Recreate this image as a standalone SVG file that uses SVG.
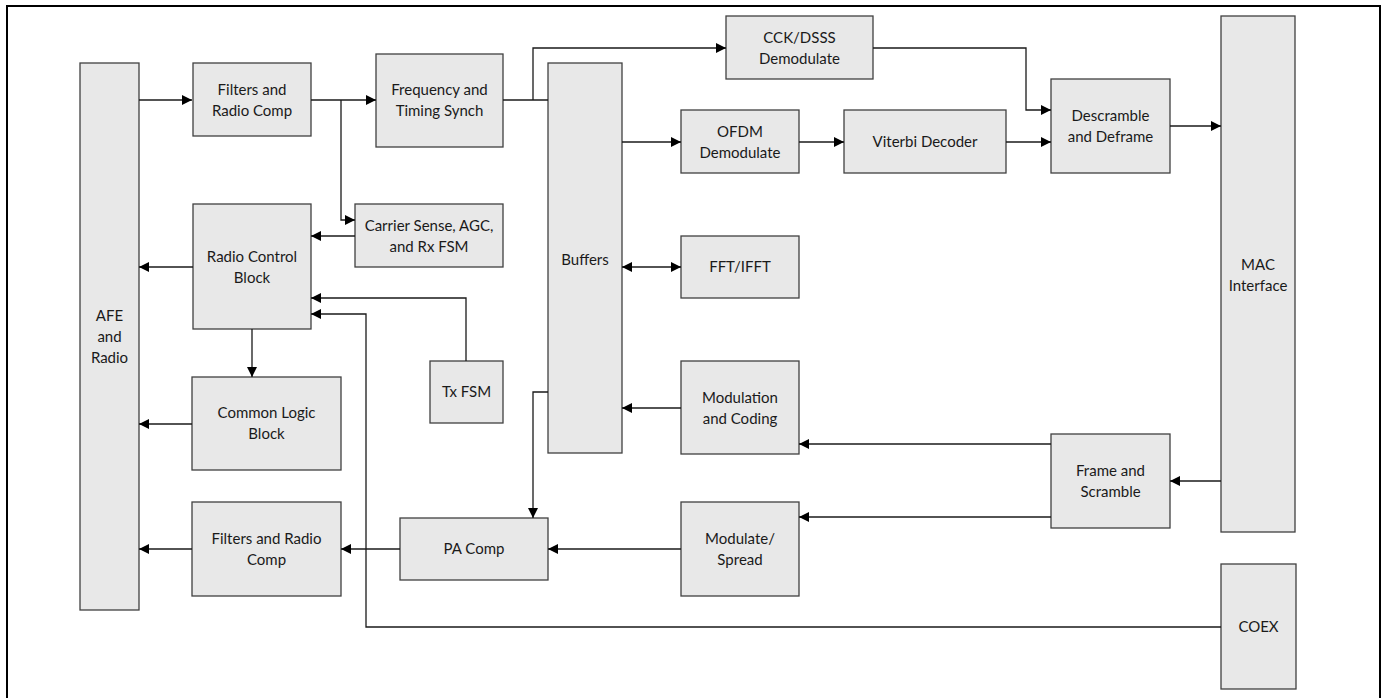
<svg xmlns="http://www.w3.org/2000/svg" width="1384" height="698" viewBox="0 0 1384 698">
<defs>
<style>
.box{fill:#e8e8e8;stroke:#404040;stroke-width:1.3}
.lbl{font-family:Lato,"Liberation Sans",sans-serif;font-size:15px;fill:#1a1a1a;text-anchor:middle}
.con{fill:none;stroke:#1a1a1a;stroke-width:1.3}
</style>
<marker id="ah" viewBox="0 0 10 10" refX="10" refY="5" markerWidth="10" markerHeight="10" markerUnits="userSpaceOnUse" orient="auto-start-reverse">
<path d="M0,0 L10,5 L0,10 z" fill="#000"/>
</marker>
</defs>
<rect width="1384" height="698" fill="#fff"/>
<path d="M7,710 L7,6 L1380,6 L1380,710" fill="none" stroke="#000" stroke-width="2"/>

<g id="afe"><rect class="box" x="80" y="63" width="59" height="547"/><text class="lbl" x="109.5" y="321">AFE</text><text class="lbl" x="109.5" y="342">and</text><text class="lbl" x="109.5" y="363">Radio</text></g>
<g id="filters-rx"><rect class="box" x="193" y="63" width="118" height="73"/><text class="lbl" x="252" y="95">Filters and</text><text class="lbl" x="252" y="116">Radio Comp</text></g>
<g id="freq"><rect class="box" x="376" y="54" width="127" height="93"/><text class="lbl" x="439.5" y="95">Frequency and</text><text class="lbl" x="439.5" y="116">Timing Synch</text></g>
<g id="cck"><rect class="box" x="726" y="16" width="147" height="63"/><text class="lbl" x="799.5" y="43">CCK/DSSS</text><text class="lbl" x="799.5" y="64">Demodulate</text></g>
<g id="buffers"><rect class="box" x="548" y="63" width="74" height="390"/><text class="lbl" x="585" y="265">Buffers</text></g>
<g id="ofdm"><rect class="box" x="681" y="110" width="118" height="63"/><text class="lbl" x="740" y="137">OFDM</text><text class="lbl" x="740" y="158">Demodulate</text></g>
<g id="viterbi"><rect class="box" x="844" y="110" width="162" height="63"/><text class="lbl" x="925" y="147">Viterbi Decoder</text></g>
<g id="descramble"><rect class="box" x="1051" y="79" width="119" height="94"/><text class="lbl" x="1110.5" y="121">Descramble</text><text class="lbl" x="1110.5" y="142">and Deframe</text></g>
<g id="mac"><rect class="box" x="1221" y="16" width="74" height="516"/><text class="lbl" x="1258" y="270">MAC</text><text class="lbl" x="1258" y="291">Interface</text></g>
<g id="carrier"><rect class="box" x="355" y="204" width="148" height="63"/><text class="lbl" x="429" y="231">Carrier Sense, AGC,</text><text class="lbl" x="429" y="252">and Rx FSM</text></g>
<g id="radioctl"><rect class="box" x="193" y="204" width="118" height="125"/><text class="lbl" x="252" y="262">Radio Control</text><text class="lbl" x="252" y="283">Block</text></g>
<g id="txfsm"><rect class="box" x="430" y="361" width="73" height="62"/><text class="lbl" x="466.5" y="397">Tx FSM</text></g>
<g id="fft"><rect class="box" x="681" y="236" width="118" height="62"/><text class="lbl" x="740" y="272">FFT/IFFT</text></g>
<g id="modcod"><rect class="box" x="681" y="361" width="118" height="93"/><text class="lbl" x="740" y="403">Modulation</text><text class="lbl" x="740" y="424">and Coding</text></g>
<g id="commonlogic"><rect class="box" x="192" y="377" width="149" height="93"/><text class="lbl" x="266.5" y="418">Common Logic</text><text class="lbl" x="266.5" y="439">Block</text></g>
<g id="framescr"><rect class="box" x="1051" y="434" width="119" height="94"/><text class="lbl" x="1110.5" y="476">Frame and</text><text class="lbl" x="1110.5" y="497">Scramble</text></g>
<g id="filters-tx"><rect class="box" x="192" y="502" width="149" height="94"/><text class="lbl" x="266.5" y="544">Filters and Radio</text><text class="lbl" x="266.5" y="565">Comp</text></g>
<g id="pacomp"><rect class="box" x="400" y="518" width="148" height="62"/><text class="lbl" x="474" y="554">PA Comp</text></g>
<g id="modspread"><rect class="box" x="681" y="502" width="118" height="94"/><text class="lbl" x="740" y="544">Modulate/</text><text class="lbl" x="740" y="565">Spread</text></g>
<g id="coex"><rect class="box" x="1221" y="564" width="75" height="125"/><text class="lbl" x="1258.5" y="632">COEX</text></g>

<g id="connectors">
<path class="con" d="M139,100 H192" marker-end="url(#ah)"/>
<path class="con" d="M311,100 H376" marker-end="url(#ah)"/>
<path class="con" d="M341,100 V220 H355" marker-end="url(#ah)"/>
<path class="con" d="M503,100 H548"/>
<path class="con" d="M533,100 V48 H726" marker-end="url(#ah)"/>
<path class="con" d="M873,48 H1026 V110 H1051" marker-end="url(#ah)"/>
<path class="con" d="M622,142 H681" marker-end="url(#ah)"/>
<path class="con" d="M799,142 H844" marker-end="url(#ah)"/>
<path class="con" d="M1006,142 H1051" marker-end="url(#ah)"/>
<path class="con" d="M1170,126 H1221" marker-end="url(#ah)"/>
<path class="con" d="M355,236 H311" marker-end="url(#ah)"/>
<path class="con" d="M193,267 H139" marker-end="url(#ah)"/>
<path class="con" d="M466,361 V298 H311" marker-end="url(#ah)"/>
<path class="con" d="M1221,627 H366 V314 H311" marker-end="url(#ah)"/>
<path class="con" d="M252,329 V377" marker-end="url(#ah)"/>
<path class="con" d="M192,424 H139" marker-end="url(#ah)"/>
<path class="con" d="M622,267 H681" marker-start="url(#ah)" marker-end="url(#ah)"/>
<path class="con" d="M548,392 H533 V518" marker-end="url(#ah)"/>
<path class="con" d="M681,408 H622" marker-end="url(#ah)"/>
<path class="con" d="M1051,444 H799" marker-end="url(#ah)"/>
<path class="con" d="M1051,517 H799" marker-end="url(#ah)"/>
<path class="con" d="M1221,481 H1170" marker-end="url(#ah)"/>
<path class="con" d="M681,549 H548" marker-end="url(#ah)"/>
<path class="con" d="M400,549 H341" marker-end="url(#ah)"/>
<path class="con" d="M192,549 H139" marker-end="url(#ah)"/>
</g>
</svg>
